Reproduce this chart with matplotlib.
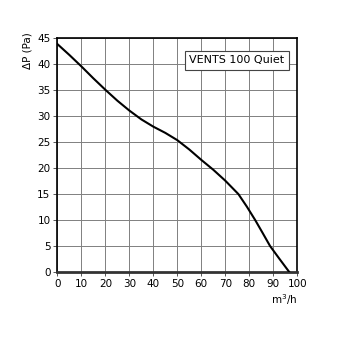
import matplotlib.pyplot as plt
from matplotlib.ticker import MultipleLocator

# fan curve
flow = [0, 5, 10, 15, 20, 25, 30, 35, 40, 45, 50, 55, 60, 65, 70, 75.5, 79, 82.5, 85.5, 88.7, 92.5, 96.7]
pressure = [43.9, 41.8, 39.6, 37.3, 35.1, 33.0, 31.1, 29.4, 28.0, 26.8, 25.4, 23.6, 21.6, 19.7, 17.6, 15.0, 12.6, 10.0, 7.6, 5.0, 2.6, 0.0]
label = 'VENTS 100 Quiet'

fig = plt.figure(figsize=(3.4, 3.4), dpi=100)
ax = fig.add_axes([0.169, 0.2, 0.705, 0.687])

ax.plot(flow, pressure, color='black', linewidth=1.5, zorder=3)

ax.set_xlim(0, 100)
ax.set_ylim(0, 45)
ax.xaxis.set_major_locator(MultipleLocator(10))
ax.yaxis.set_major_locator(MultipleLocator(5))
ax.grid(True, color='#808080', linewidth=0.7)
ax.tick_params(labelsize=7.5, length=3, width=0.7, color='#555555', pad=2)

for side in ['top', 'right', 'left']:
    ax.spines[side].set_linewidth(1.2)
ax.spines['bottom'].set_linewidth(2)
ax.spines['bottom'].set_color('#333333')

ax.text(0.55, 0.907, label, transform=ax.transAxes, fontsize=8, va='center', ha='left',
        bbox=dict(facecolor='white', edgecolor='#444444', linewidth=0.8, boxstyle='square,pad=0.4'))

fig.text(0.082, 0.85, 'ΔP (Pa)', rotation=90, fontsize=7.5, ha='center', va='center')
fig.text(0.835, 0.118, 'm$^3$/h', fontsize=7.5, ha='center', va='center')

plt.savefig('out.png', dpi=100)
